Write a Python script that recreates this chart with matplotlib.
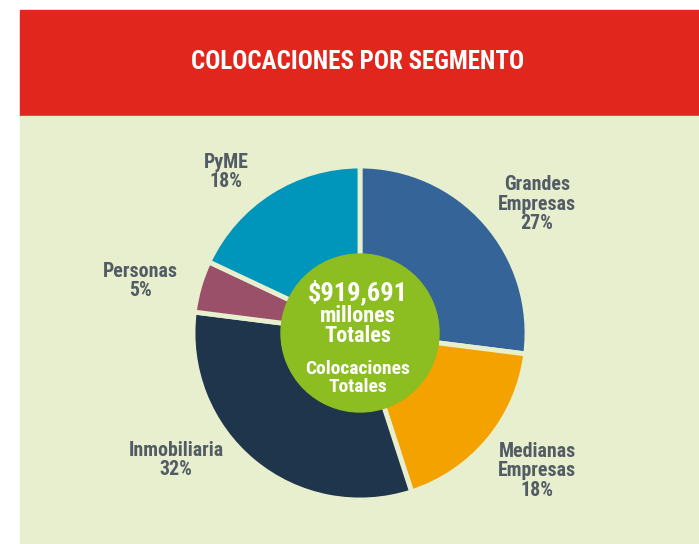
import matplotlib.pyplot as plt
from matplotlib.patches import Rectangle, Circle
from matplotlib import font_manager

# ── data ──────────────────────────────────────────────
segments = ["Grandes\nEmpresas", "Medianas\nEmpresas", "Inmobiliaria", "Personas", "PyME"]
shares = [27, 18, 32, 5, 18]
colors = ["#346498", "#F4A200", "#1F354B", "#995068", "#0095BA"]
title = "COLOCACIONES POR SEGMENTO"
total_amount = "$919,691"

# label anchor positions (pixels, origin top-left)
label_pos = [(537, 204), (537, 471), (176, 460), (140, 281), (226, 172)]

W, H = 699, 544
RED = "#E1271D"
PANEL = "#E8EFCF"
GREEN = "#8CBE21"
TXT = "#535B64"

# narrowest family we can find
names = {f.name for f in font_manager.fontManager.ttflist}
for cand in ["Roboto Condensed", "Liberation Sans Narrow", "Open Sans Condensed",
             "Roboto", "Liberation Sans"]:
    if cand in names:
        FONT = [cand, "DejaVu Sans"]
        break
else:
    FONT = ["DejaVu Sans"]

fig = plt.figure(figsize=(W / 100, H / 100), dpi=100)
ax = fig.add_axes([0, 0, 1, 1])
ax.set_axis_off()


def Y(py):
    return H - py


ax.add_patch(Rectangle((20, Y(116)), W - 20, 106, color=RED, zorder=0))
ax.add_patch(Rectangle((20, 0), W - 20, Y(116), color=PANEL, zorder=0))
ax.text(358, Y(62), title, color="white", fontsize=18, fontweight="bold",
        family=FONT, ha="center", va="center")

cx, cy, r = 360, Y(333), 167
ax.pie(shares, colors=colors, startangle=90, counterclock=False,
       center=(cx, cy), radius=r,
       wedgeprops=dict(edgecolor=PANEL, linewidth=3.5))
ax.add_patch(Circle((cx, cy), 79, color=GREEN, zorder=5))

for name, pct, (px, py) in zip(segments, shares, label_pos):
    ax.text(px, Y(py), f"{name}\n{pct}%", color=TXT, fontsize=14.3,
            fontweight="bold", family=FONT,
            ha="center", va="center", linespacing=1.02)

ax.text(358, Y(292), total_amount, color="white", fontsize=19, fontweight="bold",
        family=FONT, ha="center", va="center", zorder=6)
ax.text(358, Y(326), "millones\nTotales", color="white", fontsize=16, fontweight="bold",
        family=FONT, ha="center", va="center", linespacing=0.92, zorder=6)
ax.text(358, Y(378), "Colocaciones\nTotales", color="white", fontsize=14,
        fontweight="bold", family=FONT,
        ha="center", va="center", linespacing=1.0, zorder=6)

ax.set_xlim(0, W)
ax.set_ylim(0, H)
ax.set_aspect("auto")
fig.savefig("out.png", dpi=100, facecolor="white")
